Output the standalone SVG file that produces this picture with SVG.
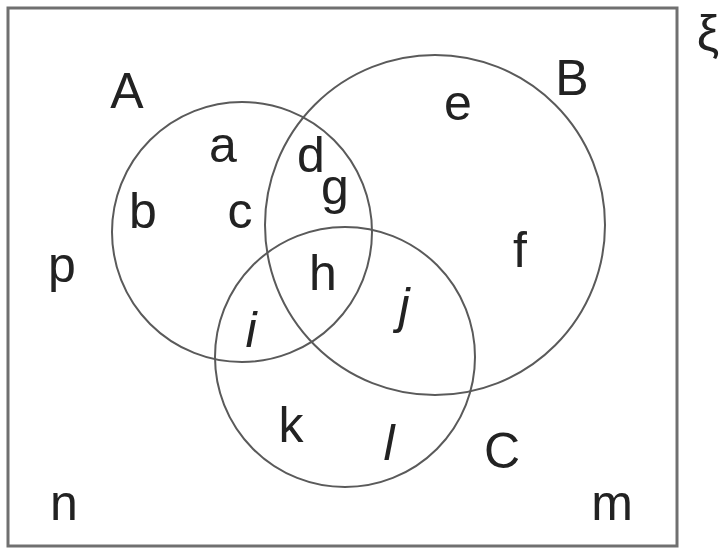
<svg xmlns="http://www.w3.org/2000/svg" width="721" height="553" viewBox="0 0 721 553">
<style>
.set{fill:none;stroke:#5a5a5a;stroke-width:2}
.lbl{font-family:"Liberation Sans",Arial,sans-serif;font-size:50px;fill:#222;text-anchor:middle}
.it{font-style:italic}
</style>
<rect width="721" height="553" fill="#fff"/>
<g id="universe">
<rect x="8" y="8" width="669" height="538" fill="none" stroke="#707070" stroke-width="3"/>
<text class="lbl" x="708" y="50" font-size="46">ξ</text>
</g>
<g id="connectors">
<circle id="setA" class="set" cx="242" cy="232" r="130"/>
<circle id="setB" class="set" cx="435" cy="225" r="170"/>
<circle id="setC" class="set" cx="345" cy="357" r="130"/>
</g>
<g id="labels">
<g id="A"><text class="lbl" x="127" y="108" font-size="44">A</text></g>
<g id="B"><text class="lbl" x="572" y="95" font-size="54">B</text></g>
<g id="C"><text class="lbl" x="502" y="468" font-size="58">C</text></g>
<g id="la"><text class="lbl" x="223" y="162">a</text></g>
<g id="lb"><text class="lbl" x="143" y="228">b</text></g>
<g id="lc"><text class="lbl" x="240" y="228">c</text></g>
<g id="ld"><text class="lbl" x="311" y="172" font-size="44">d</text></g>
<g id="le"><text class="lbl" x="458" y="120">e</text></g>
<g id="lf"><text class="lbl" x="520" y="267">f</text></g>
<g id="lg"><text class="lbl" x="335" y="204" font-size="44">g</text></g>
<g id="lh"><text class="lbl" x="323" y="290">h</text></g>
<g id="li"><text class="lbl it" x="251" y="347">i</text></g>
<g id="lj"><text class="lbl it" x="404" y="323">j</text></g>
<g id="lk"><text class="lbl" x="291" y="442">k</text></g>
<g id="ll"><text class="lbl it" x="389" y="460">l</text></g>
<g id="lm"><text class="lbl" x="612" y="520">m</text></g>
<g id="ln"><text class="lbl" x="64" y="520">n</text></g>
<g id="lp"><text class="lbl" x="62" y="282">p</text></g>
</g>
</svg>
